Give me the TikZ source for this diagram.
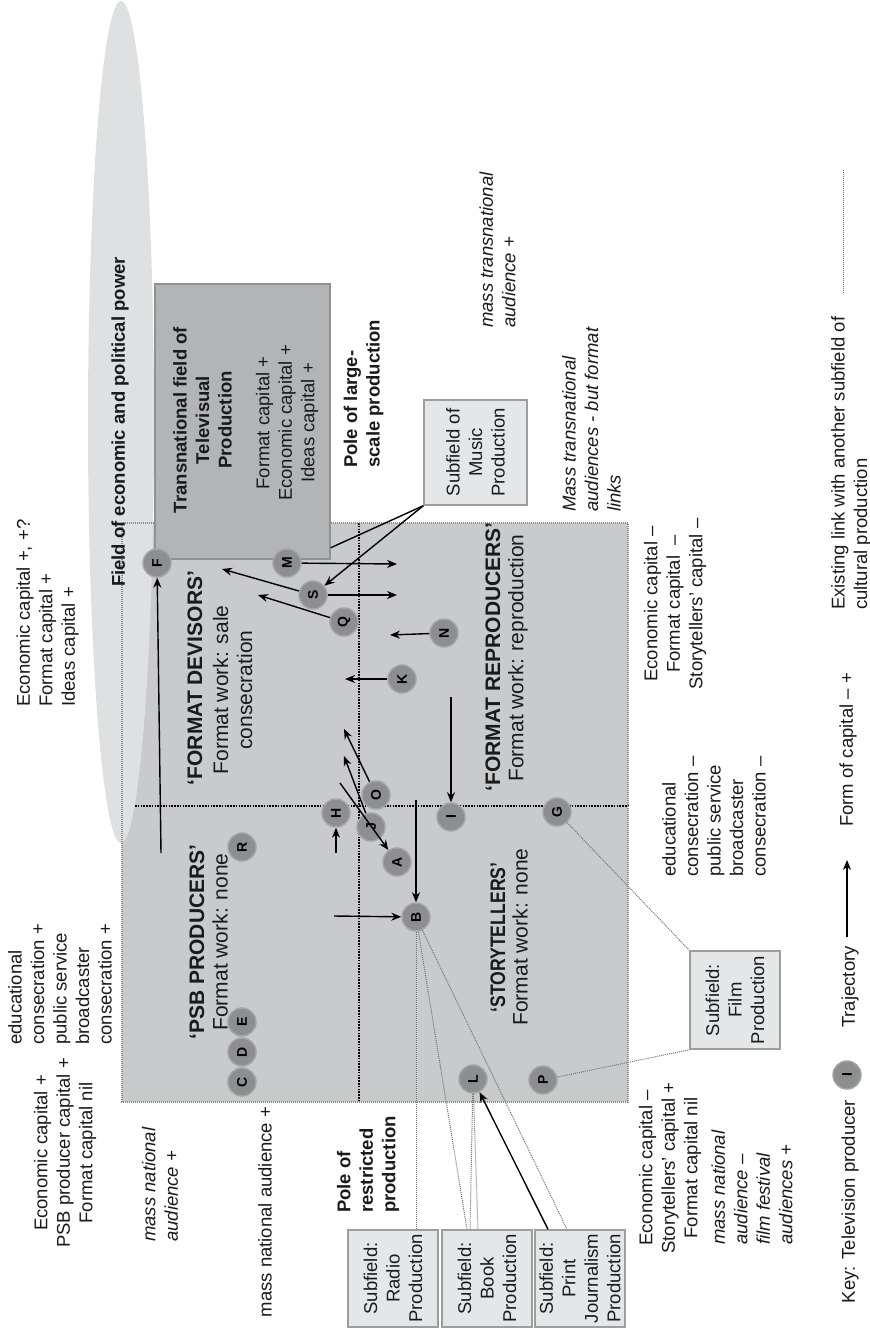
\documentclass[tikz,border=0pt]{standalone}
\usepackage{fontspec}
\usepackage{graphicx}
\setmainfont{Liberation Sans}
\usetikzlibrary{arrows.meta,calc}
\definecolor{ellcol}{HTML}{DFE0E2}
\definecolor{maincol}{HTML}{C9CACC}
\definecolor{transcol}{HTML}{B3B4B6}
\definecolor{transedge}{HTML}{909193}
\definecolor{subcol}{HTML}{E5E6E8}
\definecolor{subedge}{HTML}{9D9EA0}
\definecolor{circcol}{HTML}{8D8E90}
\definecolor{circedge}{HTML}{A4A5A7}
\definecolor{txtcol}{HTML}{1A1A1A}
\newcommand{\myfs}{\fontsize{18.5}{22.5}\selectfont}
\newcommand{\mybig}{\fontsize{21}{24}\selectfont}
\begin{document}
\begin{tikzpicture}[x=1pt,y=-1pt,
 txt/.style={rotate=90, inner sep=0pt, font=\myfs, text=txtcol},
 bigtxt/.style={rotate=90, inner sep=0pt, font=\mybig, text=txtcol},
 prod/.style={circle, rotate=90, fill=circcol, draw=circedge, line width=1.5pt, minimum size=28pt, inner sep=0pt, font=\fontsize{14}{14}\selectfont\bfseries},
 subbox/.style={rotate=90, draw=subedge, fill=subcol, line width=1.5pt, minimum width=97pt, minimum height=90pt, inner sep=0pt, align=center, font=\myfs, text=txtcol},
 traj/.style={-{Stealth[length=10pt,width=8pt]}, line width=1.4pt},
 link/.style={draw=black!55, line width=1pt, dash pattern=on 1pt off 1pt},
 divider/.style={line width=1.6pt, dash pattern=on 1.6pt off 1.2pt},
 border/.style={draw=black!45, line width=1.4pt, dash pattern=on 1pt off 1pt},
]
\useasboundingbox (0,0) rectangle (870,1334);
% background field
\fill[maincol] (122,523) rectangle (628,1102);
\draw[divider] (359,523) -- (359,1100);
\draw[divider] (135,806) -- (628,806);
\fill[ellcol] (121,422) ellipse [x radius=33pt, y radius=421pt];
\draw[border] (122,523) rectangle (628,1102);
\node[rotate=90, fill=transcol, draw=transedge, line width=1.5pt, minimum width=275pt, minimum height=175pt] (trans) at (242.5,421.5) {};
\node[txt, font=\myfs\bfseries] (field) at (120,422) {Field of economic and political power};
\node[txt, font=\myfs\bfseries, align=center] (transT) at (202.5,420) {Transnational field of\\Televisual\\Production};
\node[txt, align=center] (transC) at (287,423) {Format capital +\\Economic capital +\\Ideas capital +};

% outer texts
\node[txt, align=left, anchor=west] (t1) at (47.5,707) {Economic capital +, +?\\Format capital +\\Ideas capital +};
\node[txt, align=left, anchor=west] (t2) at (60,1045) {educational\\consecration +\\public service\\broadcaster\\consecration +};
\node[txt, align=center] (t3) at (65,1153) {Economic capital +\\PSB producer capital +\\Format capital nil};
\node[txt, align=left, anchor=west, font=\myfs\itshape] (t4) at (160,1242) {mass national\\audience +};
\node[txt] (t5) at (265,1212) {mass national audience +};
\node[txt, align=left, anchor=west, font=\myfs\bfseries] (t6) at (368,1213) {Pole of\\restricted\\production};
\node[txt, align=left, anchor=west, font=\myfs\bfseries] (t7) at (363.5,468) {Pole of large-\\scale production};
\node[txt, align=left, anchor=west, font=\myfs\itshape] (t8) at (497.5,328) {mass transnational\\audience +};
\node[txt, align=left, anchor=west, font=\myfs\itshape] (t9) at (591.5,512) {Mass transnational\\audiences - but format\\links};
\node[txt, align=center] (t10) at (675,604) {Economic capital --\\Format capital \ --\\Storytellers’ capital --};
\node[txt, align=left, anchor=west] (t11) at (714,877) {educational\\consecration --\\public service\\broadcaster\\consecration --};
\node[txt, align=center] (t12) at (670,1168) {Economic capital --\\Storytellers’ capital +\\Format capital nil};
\node[txt, align=left, anchor=west, font=\myfs\itshape] (t13) at (752,1245) {mass national\\audience --\\film festival\\audiences +};

% quadrant labels
\node[bigtxt, font=\mybig\bfseries] (psbT) at (197,942) {‘PSB PRODUCERS’};
\node[bigtxt] (psbS) at (220,942) {Format work: none};
\node[bigtxt, font=\mybig\bfseries] (fdT) at (195,678) {‘FORMAT DEVISORS’};
\node[bigtxt, align=center] (fdS) at (232.5,690) {Format work: sale\\consecration};
\node[bigtxt, font=\mybig\bfseries] (stT) at (498,937.5) {\scalebox{0.84}[1]{‘STORYTELLERS’}};
\node[bigtxt] (stS) at (520,937) {Format work: none};
\node[bigtxt, font=\mybig\bfseries] (frT) at (493,657) {‘FORMAT REPRODUCERS’};
\node[bigtxt] (frS) at (518,658) {Format work: reproduction};

% subfield boxes
\node[subbox, minimum width=105pt, minimum height=103pt] (music) at (475.5,452.5) {Subfield of\\Music\\Production};
\node[subbox, minimum width=98pt] (film) at (735,1000) {Subfield:\\Film\\Production};
\node[subbox] (radio) at (393,1278.5) {Subfield:\\Radio\\Production};
\node[subbox] (book) at (487,1278.5) {Subfield:\\Book\\Production};
\node[subbox] (print) at (580,1278.5) {Subfield:\\Print\\Journalism\\Production};

% producers
\node[prod] (F) at (157,563) {F};
\node[prod] (M) at (287,563) {M};
\node[prod] (S) at (313,595) {S};
\node[prod] (Q) at (344,622) {Q};
\node[prod] (N) at (444,633) {N};
\node[prod] (K) at (402,679) {K};
\node[prod] (O) at (376,795) {O};
\node[prod] (H) at (336,813) {H};
\node[prod] (J) at (371,827) {J};
\node[prod] (I) at (451,817) {I};
\node[prod] (A) at (397,862) {A};
\node[prod] (B) at (416,917) {B};
\node[prod] (G) at (557,812) {G};
\node[prod] (R) at (242,847) {R};
\node[prod] (E) at (242,1022) {E};
\node[prod] (D) at (242,1052) {D};
\node[prod] (C) at (242,1082) {C};
\node[prod] (L) at (473,1079) {L};
\node[prod] (P) at (543,1080) {P};

% free ends
\coordinate (fS) at (161,853);
\coordinate (sT) at (222,569);
\coordinate (qT) at (258,595);
\coordinate (mE) at (397,564);
\coordinate (sE) at (397,595);
\coordinate (nE) at (390,635);
\coordinate (kE) at (345,679);
\coordinate (oE) at (344,729);
\coordinate (jE) at (344,756);
\coordinate (aS) at (340,783);
\coordinate (hS) at (336,853);
\coordinate (iS) at (451,697);
\coordinate (bS1) at (416,800);
\coordinate (bS2) at (334,916);

% trajectories
\draw[traj] (fS) -- (F);
\draw[traj] (S) -- (sT);
\draw[traj] (Q) -- (qT);
\draw[traj] (M) -- (mE);
\draw[traj] (S) -- (sE);
\draw[traj] (music.north west) -- (S);
\draw[line width=1.4pt] (music.north west) -- ([yshift=12pt]trans.south west);
\draw[traj] (N) -- (nE);
\draw[traj] (K) -- (kE);
\draw[traj] (O) -- (oE);
\draw[traj] (J) -- (jE);
\draw[traj] (aS) -- (A);
\draw[traj] (hS) -- (H);
\draw[traj] (iS) -- (I);
\draw[traj] (bS1) -- (B);
\draw[traj] (bS2) -- (B);
\draw[traj] ([xshift=-32pt]print.east) -- (L);

% links
\draw[link] (B) -- (B |- radio.east);
\draw[link] (B) -- ([xshift=-20pt]book.east);
\draw[link] (B) -- ([xshift=-13pt]print.east);
\draw[link] (L) -- ([xshift=-17pt]book.east);
\draw[link] (L) -- ([xshift=-9pt]book.east);
\draw[link] (P) -- (film.north west);
\draw[link] (G) -- (film.north east);

% key
\node[txt] (key1) at (850,1201.5) {Key: Television producer};
\node[prod] (keyI) at (847,1075) {I};
\node[txt] (key2) at (850,987) {Trajectory};
\coordinate (ka1) at (847,937);
\coordinate (ka2) at (847,860);
\draw[traj] (ka1) -- (ka2);
\node[txt] (key3) at (848,750) {Form of capital -- +};
\node[txt, align=left, anchor=west] (key4) at (851,610) {Existing link with another subfield of\\cultural production};
\coordinate (kl1) at (843,293);
\coordinate (kl2) at (843,170);
\draw[link] (kl1) -- (kl2);
\end{tikzpicture}
\end{document}
